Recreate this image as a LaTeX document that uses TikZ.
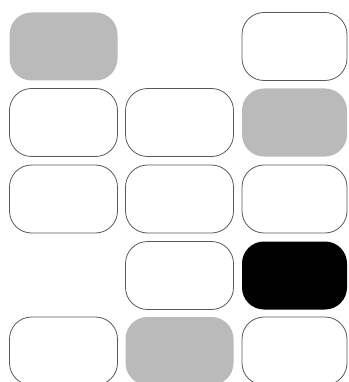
\documentclass[tikz,border=0pt]{standalone}
\begin{document}
\begin{tikzpicture}[x=1pt,y=-1pt,
  cell/.style={draw=black!65, line width=0.8pt, rounded corners=22pt, minimum width=108pt, minimum height=68pt, inner sep=0pt, fill=white},
  lastcol/.style={minimum width=105pt},
  graycell/.style={cell, draw=none, fill=black!27},
  blackcell/.style={cell, draw=none, fill=black}]
\useasboundingbox (0,0) rectangle (348,382);
\node[graycell]  (r1c1) at (63.5,46.5) {};
\node[cell,lastcol]      (r1c3) at (294.5,46.5) {};
\node[cell]      (r2c1) at (63.5,122.5) {};
\node[cell]      (r2c2) at (179.5,122.5) {};
\node[graycell,lastcol]  (r2c3) at (294.5,122.5) {};
\node[cell]      (r3c1) at (63.5,199) {};
\node[cell]      (r3c2) at (179.5,199) {};
\node[cell,lastcol]      (r3c3) at (294.5,199) {};
\node[cell]      (r4c2) at (179.5,275.5) {};
\node[blackcell,lastcol] (r4c3) at (294.5,275.5) {};
\node[cell]      (r5c1) at (63.5,351) {};
\node[graycell]  (r5c2) at (179.5,351) {};
\node[cell,lastcol]      (r5c3) at (294.5,351) {};
\end{tikzpicture}
\end{document}
